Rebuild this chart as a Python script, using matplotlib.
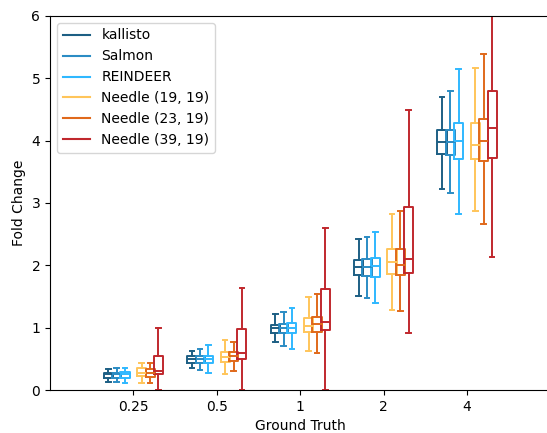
import matplotlib
matplotlib.use("Agg")
from matplotlib import pyplot as plt
from matplotlib.lines import Line2D

truth = ["0.25", "0.5", "1", "2", "4"]
tools = ["kallisto", "Salmon", "REINDEER", "Needle (19, 19)", "Needle (23, 19)", "Needle (39, 19)"]
colors = ["#1d5f84", "#2b8cc4", "#2fb8ff", "#ffc55a", "#e0691b", "#c0282d"]

# per tool, per ground truth: (whislo, q1, median, q3, whishi)
kallisto = [(0.13, 0.20, 0.25, 0.28, 0.34), (0.35, 0.43, 0.49, 0.55, 0.63), (0.77, 0.92, 0.99, 1.05, 1.22),
            (1.51, 1.85, 1.97, 2.09, 2.42), (3.23, 3.79, 3.98, 4.17, 4.70)]
salmon = [(0.13, 0.20, 0.25, 0.28, 0.35), (0.32, 0.43, 0.49, 0.55, 0.66), (0.71, 0.92, 0.99, 1.06, 1.25),
          (1.47, 1.83, 1.97, 2.10, 2.46), (3.16, 3.77, 3.98, 4.17, 4.80)]
reindeer = [(0.12, 0.20, 0.25, 0.29, 0.36), (0.28, 0.43, 0.49, 0.54, 0.72), (0.66, 0.91, 1.00, 1.07, 1.32),
            (1.39, 1.81, 1.99, 2.12, 2.54), (2.82, 3.70, 4.00, 4.28, 5.15)]
needle19 = [(0.11, 0.22, 0.27, 0.35, 0.43), (0.26, 0.45, 0.53, 0.61, 0.81), (0.63, 0.93, 1.03, 1.15, 1.49),
            (1.29, 1.86, 2.05, 2.26, 2.82), (2.87, 3.70, 3.93, 4.28, 5.17)]
needle23 = [(0.11, 0.21, 0.27, 0.34, 0.43), (0.31, 0.46, 0.55, 0.61, 0.77), (0.60, 0.93, 1.06, 1.17, 1.54),
            (1.26, 1.84, 2.00, 2.26, 2.87), (2.66, 3.67, 4.00, 4.35, 5.39)]
needle39 = [(0.0, 0.26, 0.30, 0.55, 1.00), (0.0, 0.50, 0.59, 0.98, 1.63), (0.0, 0.96, 1.09, 1.62, 2.60),
            (0.91, 1.87, 2.10, 2.93, 4.49), (2.13, 3.72, 4.20, 4.80, 6.60)]

data = [kallisto, salmon, reindeer, needle19, needle23, needle39]
offsets = [-0.3, -0.2, -0.1, 0.1, 0.2, 0.3]

fig = plt.figure(figsize=(5.47, 4.33), dpi=100)
ax = fig.add_axes([50 / 547, 43 / 433, 500.5 / 547, 374 / 433])

for tool, col, off, vals in zip(tools, colors, offsets, data):
    stats = []
    for v in vals:
        stats.append({"whislo": v[0], "q1": v[1], "med": v[2], "q3": v[3], "whishi": v[4], "fliers": []})
    pos = [i + off for i in range(len(truth))]
    ax.bxp(stats, positions=pos, widths=0.11, showfliers=False, manage_ticks=False,
           boxprops=dict(color=col, linewidth=1.4),
           whiskerprops=dict(color=col, linewidth=1.4),
           capprops=dict(color=col, linewidth=1.4),
           medianprops=dict(color=col, linewidth=1.4))

ax.set_xticks(range(len(truth)))
ax.set_xticklabels(truth)
ax.set_xlim(-1, 5)
ax.set_ylim(0, 6)
ax.set_xlabel("Ground Truth")
ax.set_ylabel("Fold Change")

handles = [Line2D([0], [0], color=c, linewidth=1.5) for c in colors]
ax.legend(handles, tools, loc="upper left")

fig.savefig("out.png", dpi=100)
